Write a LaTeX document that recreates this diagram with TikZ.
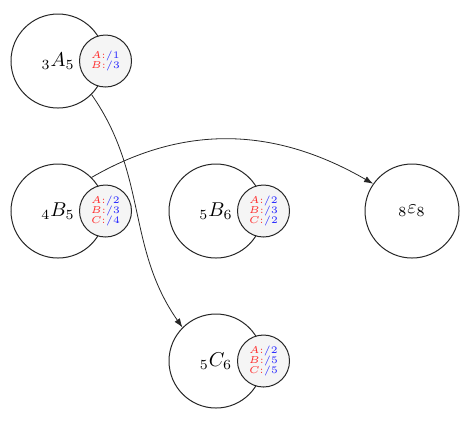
\documentclass[tikz,border=0pt]{standalone}
\usepackage{amsmath}
\usetikzlibrary{positioning,arrows.meta}
\tikzset{
  state/.style={draw=black!85,line width=0.5pt,circle,minimum size=47pt,inner sep=0pt},
  info/.style={draw=black!85,line width=0.5pt,circle,fill=gray!8,minimum size=26pt,
    inner sep=0pt,font=\fontsize{5.5}{5.5}\selectfont,align=center},
  edge/.style={-{Latex[length=4.5pt,width=3.2pt]},black!85},
}
\newcommand{\rb}[2]{$\color{red!85}#1{:}\color{blue!85}/#2$}

\begin{document}
\begin{tikzpicture}[x=0.5pt,y=-0.5pt]
\useasboundingbox (0,0) rectangle (474,420);
\node[state] (A)  at (58,61)   {${}_3A_5$};
\node[state] (B)  at (58,211)  {${}_4B_5$};
\node[state] (B6) at (216,211) {${}_5B_6$};
\node[state] (C)  at (216,361) {${}_5C_6$};
\node[state] (E)  at (412,211) {${}_8\varepsilon_8$};
\node[info] (iA)  at (A.east)  {\rb{A}{1}\\[-0.5pt]\rb{B}{3}};
\node[info] (iB)  at (B.east)  {\rb{A}{2}\\[-0.5pt]\rb{B}{3}\\[-0.5pt]\rb{C}{4}};
\node[info] (iB6) at (B6.east) {\rb{A}{2}\\[-0.5pt]\rb{B}{3}\\[-0.5pt]\rb{C}{2}};
\node[info] (iC)  at (C.east)  {\rb{A}{2}\\[-0.5pt]\rb{B}{5}\\[-0.5pt]\rb{C}{5}};
\draw[edge] (A.-45) to[out=-55,in=125] (C.135);
\draw[edge] (B.45) to[out=30,in=150] (E.145);
\end{tikzpicture}
\end{document}
